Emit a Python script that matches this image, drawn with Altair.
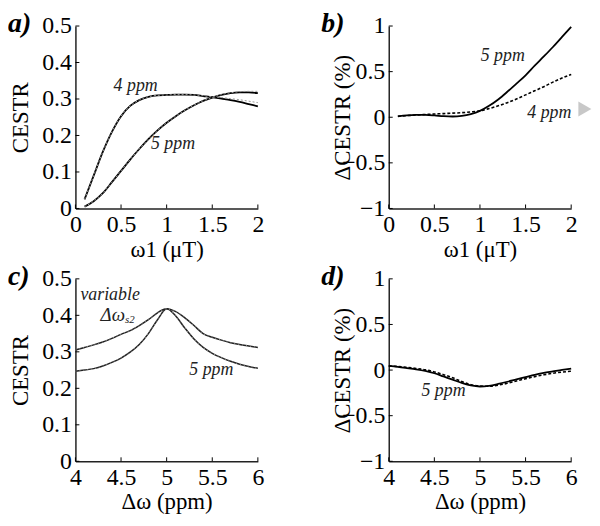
import altair as alt
import pandas as pd

FONT = "'Liberation Serif', 'Times New Roman', 'DejaVu Serif', serif"

# ---------------- data ----------------
w1 = [0.1, 0.2, 0.3, 0.4, 0.5, 0.6, 0.7, 0.8, 0.9, 1.0,
      1.1, 1.2, 1.3, 1.4, 1.5, 1.6, 1.7, 1.8, 1.9, 2.0]
a_4ppm = [0.025, 0.09, 0.155, 0.21, 0.253, 0.281, 0.297, 0.306, 0.310, 0.311,
          0.312, 0.312, 0.311, 0.308, 0.305, 0.301, 0.297, 0.292, 0.286, 0.280]
a_4ppm_dot = [0.025, 0.09, 0.155, 0.21, 0.253, 0.281, 0.297, 0.306, 0.310, 0.311,
              0.312, 0.312, 0.311, 0.309, 0.306, 0.304, 0.301, 0.298, 0.294, 0.290]
a_5ppm = [0.005, 0.02, 0.042, 0.072, 0.103, 0.134, 0.163, 0.19, 0.214, 0.235,
          0.253, 0.269, 0.283, 0.295, 0.304, 0.311, 0.316, 0.318, 0.318, 0.316]
a_5ppm_dot = [0.005, 0.02, 0.042, 0.072, 0.103, 0.134, 0.163, 0.19, 0.214, 0.235,
              0.253, 0.269, 0.283, 0.295, 0.304, 0.312, 0.317, 0.320, 0.321, 0.321]

b_5ppm = [0.01, 0.02, 0.025, 0.025, 0.02, 0.012, 0.008, 0.015, 0.035, 0.07,
          0.125, 0.195, 0.279, 0.369, 0.46, 0.565, 0.666, 0.77, 0.88, 0.99]
b_4ppm = [0.01, 0.018, 0.024, 0.03, 0.035, 0.04, 0.045, 0.05, 0.058, 0.07,
          0.095, 0.125, 0.16, 0.2, 0.245, 0.29, 0.335, 0.385, 0.43, 0.47]

dw = [4.0, 4.1, 4.2, 4.3, 4.4, 4.5, 4.6, 4.7, 4.8, 4.9, 5.0,
      5.1, 5.2, 5.3, 5.4, 5.5, 5.6, 5.7, 5.8, 5.9, 6.0]
c_var = [0.305, 0.312, 0.319, 0.327, 0.337, 0.348, 0.358, 0.372, 0.388, 0.407, 0.418,
         0.410, 0.393, 0.372, 0.350, 0.340, 0.332, 0.325, 0.320, 0.316, 0.312]
c_5ppm = [0.247, 0.250, 0.254, 0.261, 0.271, 0.283, 0.299, 0.320, 0.350, 0.388, 0.418,
          0.398, 0.365, 0.335, 0.312, 0.296, 0.284, 0.274, 0.266, 0.260, 0.255]

d_solid = [0.045, 0.035, 0.022, 0.008, -0.01, -0.035, -0.07, -0.105, -0.14, -0.168, -0.18,
           -0.172, -0.152, -0.128, -0.102, -0.077, -0.052, -0.032, -0.015, 0.002, 0.016]
d_dash = [0.045, 0.04, 0.03, 0.018, 0.003, -0.02, -0.05, -0.085, -0.125, -0.16, -0.176,
          -0.178, -0.165, -0.145, -0.12, -0.095, -0.072, -0.052, -0.035, -0.022, -0.012]

xt_w1 = [0, 0.5, 1, 1.5, 2]
xt_dw = [4, 4.5, 5, 5.5, 6]
yt_cestr = [0, 0.1, 0.2, 0.3, 0.4, 0.5]
yt_delta = [-1, -0.5, 0, 0.5, 1]

W = 184
H = 184


def xenc(domain, title):
    return alt.X("x:Q", scale=alt.Scale(domain=domain, nice=False, zero=False),
                 axis=alt.Axis(values=xt_w1 if domain[0] == 0 else xt_dw, title=title,
                               format="~g", labelFlush=False, labelOverlap=False,
                               titleX=W / 2, titleY=41, titleAlign="center",
                               titleBaseline="middle"))


def yenc(domain, title, vals, tx):
    return alt.Y("y:Q", scale=alt.Scale(domain=domain, nice=False, zero=False),
                 axis=alt.Axis(values=vals, title=title, format="~g",
                               labelFlush=False, labelOverlap=False,
                               titleX=tx, titleY=H / 2, titleAngle=270,
                               titleAlign="center", titleBaseline="middle"))


def line(xs, ys, X, Y, color="black", width=1.8, dash=None):
    df = pd.DataFrame({"x": xs, "y": ys})
    kw = dict(color=color, strokeWidth=width, interpolate="monotone")
    if dash:
        kw["strokeDash"] = dash
    return alt.Chart(df).mark_line(**kw).encode(x=X, y=Y)


def label(x, y, txt, X, Y, size=18, align="center", dy=0):
    df = pd.DataFrame({"x": [x], "y": [y], "t": [txt]})
    return alt.Chart(df).mark_text(font=FONT, fontSize=size, fontStyle="italic",
                                   align=align, baseline="middle", dy=dy,
                                   color="#222").encode(x=X, y=Y, text="t:N")


def ticks(xv, yv, X, Y):
    xr = alt.Chart(pd.DataFrame({"x": xv})).mark_rule(color="black", strokeWidth=1).encode(
        x=X, y=alt.value(H), y2=alt.value(H - 4))
    yr = alt.Chart(pd.DataFrame({"y": yv})).mark_rule(color="black", strokeWidth=1).encode(
        y=Y, x=alt.value(0), x2=alt.value(4))
    return [xr, yr]


def panel_tag(txt):
    df = pd.DataFrame({"t": [txt]})
    return alt.Chart(df).mark_text(font=FONT, fontSize=28, fontStyle="italic",
                                   fontWeight="bold", align="left", baseline="top",
                                   color="black").encode(
        x=alt.value(-68), y=alt.value(-16), text="t:N")


# ---------------- panel a ----------------
Xa = xenc([0, 2], "ω1 (μT)")
Ya = yenc([0, 0.5], "CESTR", yt_cestr, -55.5)
pa = alt.layer(
    line(w1, a_4ppm, Xa, Ya),
    line(w1, a_5ppm, Xa, Ya),
    line(w1, a_4ppm_dot, Xa, Ya, color="#999999", width=1, dash=[2, 2]),
    line(w1, a_5ppm_dot, Xa, Ya, color="#999999", width=1, dash=[2, 2]),
    label(0.66, 0.335, "4 ppm", Xa, Ya),
    label(1.07, 0.177, "5 ppm", Xa, Ya),
    *ticks(xt_w1, yt_cestr, Xa, Ya),
    panel_tag("a)"),
).properties(width=W, height=H)

# ---------------- panel b ----------------
Xb = xenc([0, 2], "ω1 (μT)")
Yb = yenc([-1, 1], "ΔCESTR (%)", yt_delta, -47)
tri = alt.Chart(pd.DataFrame({"x": [2.15], "y": [0.09]})).mark_point(
    shape="triangle-right", filled=True, color="#c8c8c8", opacity=1, size=230
).encode(x=Xb, y=Yb)
pb = alt.layer(
    line(w1, b_5ppm, Xb, Yb),
    line(w1, b_4ppm, Xb, Yb, width=1.6, dash=[3, 2]),
    label(1.25, 0.675, "5 ppm", Xb, Yb),
    label(1.76, 0.05, "4 ppm", Xb, Yb),
    tri,
    *ticks(xt_w1, yt_delta, Xb, Yb),
    panel_tag("b)"),
).properties(width=W, height=H)

# ---------------- panel c ----------------
Xc = xenc([4, 6], "Δω (ppm)")
Yc = yenc([0, 0.5], "CESTR", yt_cestr, -55.5)
pc = alt.layer(
    line(dw, c_var, Xc, Yc, color="#222222", width=1.5),
    line(dw, c_5ppm, Xc, Yc, color="#222222", width=1.5),
    line(dw, c_var, Xc, Yc, color="#b0b0b0", width=0.8, dash=[1, 3]),
    line(dw, c_5ppm, Xc, Yc, color="#b0b0b0", width=0.8, dash=[1, 3]),
    label(4.38, 0.456, "variable", Xc, Yc),
    label(4.543, 0.40, "Δω", Xc, Yc, size=19, align="right"),
    label(4.543, 0.40, "s2", Xc, Yc, size=11, align="left", dy=5),
    label(5.49, 0.25, "5 ppm", Xc, Yc),
    *ticks(xt_dw, yt_cestr, Xc, Yc),
    panel_tag("c)"),
).properties(width=W, height=H)

# ---------------- panel d ----------------
Xd = xenc([4, 6], "Δω (ppm)")
Yd = yenc([-1, 1], "ΔCESTR (%)", yt_delta, -47)
pd_ = alt.layer(
    line(dw, d_solid, Xd, Yd, width=1.8),
    line(dw, d_dash, Xd, Yd, width=1.6, dash=[3, 2]),
    label(4.6, -0.23, "5 ppm", Xd, Yd),
    *ticks(xt_dw, yt_delta, Xd, Yd),
    panel_tag("d)"),
).properties(width=W, height=H)

chart = alt.concat(
    pa, pb, pc, pd_, columns=2, spacing={"row": 71, "column": 132}, bounds="flush"
).properties(padding=0).configure_view(stroke=None).configure_axis(
    grid=False, ticks=False, tickSize=0, domainColor="#222222", domainWidth=1.5,
    labelFont=FONT, labelFontSize=24, labelColor="black", labelPadding=4,
    titleFont=FONT, titleFontSize=23, titleFontWeight="normal", titleColor="black",
)

chart.save("out.html", embed_options={"renderer": "svg", "actions": False})
